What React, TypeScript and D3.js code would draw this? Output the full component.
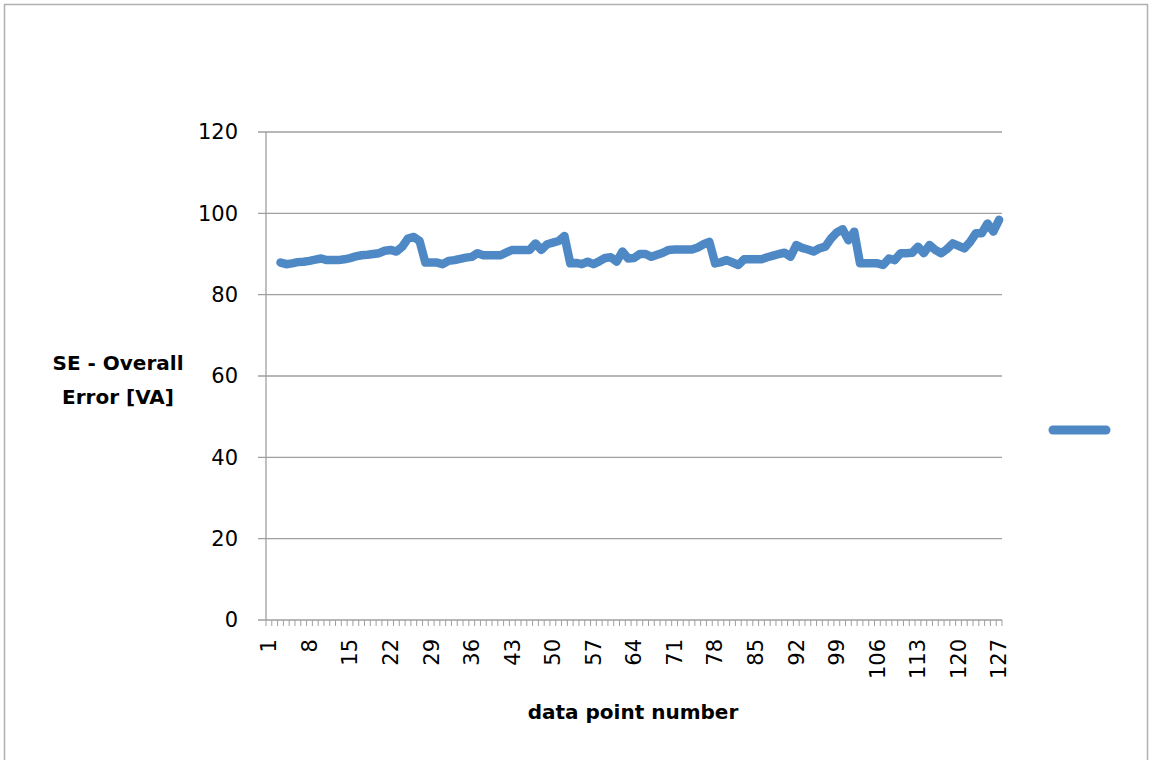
import React from "react";
import * as d3 from "d3";

const categories: number[] = d3.range(1, 128);
const xTickLabels: number[] = [1, 8, 15, 22, 29, 36, 43, 50, 57, 64, 71, 78, 85, 92, 99, 106, 113, 120, 127];
const yTicks: number[] = [0, 20, 40, 60, 80, 100, 120];

const seValues: (number | null)[] = [
  null, null, 87.9, 87.5, 87.7, 88.0, 88.1, 88.3, 88.6, 88.9,
  88.5, 88.5, 88.5, 88.7, 89.0, 89.4, 89.7, 89.8, 90.0, 90.2,
  90.8, 91.0, 90.6, 91.8, 93.8, 94.2, 93.2, 87.9, 87.9, 87.9,
  87.5, 88.3, 88.5, 88.8, 89.1, 89.3, 90.2, 89.7, 89.7, 89.7,
  89.7, 90.4, 91.0, 91.0, 91.0, 91.0, 92.6, 91.0, 92.4, 92.8,
  93.2, 94.4, 87.7, 87.8, 87.5, 88.1, 87.5, 88.2, 89.0, 89.2,
  88.1, 90.6, 88.9, 89.0, 90.0, 90.0, 89.3, 89.8, 90.3, 91.0,
  91.1, 91.1, 91.1, 91.1, 91.6, 92.4, 93.0, 87.7, 88.0, 88.5,
  87.9, 87.3, 88.7, 88.7, 88.7, 88.7, 89.2, 89.6, 90.0, 90.3,
  89.3, 92.2, 91.5, 91.1, 90.6, 91.4, 91.8, 93.8, 95.3, 96.1,
  93.4, 95.5, 87.7, 87.7, 87.7, 87.7, 87.3, 88.9, 88.5, 90.2,
  90.2, 90.3, 91.8, 90.2, 92.2, 91.0, 90.2, 91.2, 92.6, 92.0,
  91.4, 93.0, 95.1, 95.1, 97.5, 95.5, 98.4,
];

const W = 1151;
const H = 760;
const plot = { left: 266, right: 1002, top: 132, bottom: 620 };
const FONT = "'DejaVu Sans', 'Open Sans', sans-serif";
const LINE_COLOR = "#4f89c5";
const GRID = "#9f9f9f";

export default function App() {
  const x = d3
    .scaleBand<number>()
    .domain(categories)
    .range([plot.left, plot.right])
    .paddingInner(0)
    .paddingOuter(0);
  const y = d3.scaleLinear().domain([0, 120]).range([plot.bottom, plot.top]);
  const bw = x.bandwidth();
  const cx = (c: number) => (x(c) as number) + bw / 2;

  const points = categories.map((c, i) => ({ c, v: seValues[i] }));
  const line = d3
    .line<{ c: number; v: number | null }>()
    .defined((d) => d.v !== null)
    .x((d) => cx(d.c))
    .y((d) => y(d.v as number));

  const boundaries = categories.map((c) => x(c) as number).concat([plot.right]);

  return (
    <svg
      width={W}
      height={H}
      style={{ position: "absolute", left: 0, top: 0, background: "#fff" }}
      fontFamily={FONT}
    >
      <rect x={4.5} y={4.5} width={1143} height={H + 10} fill="#fff" stroke="#b0b0b0" strokeWidth={1.5} />

      {/* gridlines */}
      {yTicks.map((t) => (
        <line
          key={"g" + t}
          x1={plot.left - 8}
          x2={plot.right}
          y1={y(t)}
          y2={y(t)}
          stroke={GRID}
          strokeWidth={1.3}
        />
      ))}
      {/* y axis line */}
      <line x1={plot.left} x2={plot.left} y1={plot.top} y2={plot.bottom} stroke={GRID} strokeWidth={1.3} />
      {/* x ticks */}
      {boundaries.map((b, i) => (
        <line key={"xt" + i} x1={b} x2={b} y1={plot.bottom} y2={plot.bottom + 6} stroke={GRID} strokeWidth={1} />
      ))}

      {/* y tick labels */}
      {yTicks.map((t) => (
        <text key={"yl" + t} x={238} y={y(t)} dy="0.35em" textAnchor="end" fontSize={21} fill="#000">
          {t}
        </text>
      ))}

      {/* x tick labels */}
      {xTickLabels.map((c) => (
        <text
          key={"xl" + c}
          transform={`translate(${cx(c)},${plot.bottom + 19}) rotate(-90)`}
          textAnchor="end"
          dy="0.35em"
          fontSize={21}
          fill="#000"
        >
          {c}
        </text>
      ))}

      {/* series line */}
      <path
        d={line(points) || ""}
        fill="none"
        stroke={LINE_COLOR}
        strokeWidth={8.5}
        strokeLinejoin="round"
        strokeLinecap="round"
      />

      {/* axis titles */}
      <text x={118} y={370} textAnchor="middle" fontSize={20} fontWeight="bold" fill="#000">
        SE - Overall
      </text>
      <text x={118} y={404} textAnchor="middle" fontSize={20} fontWeight="bold" fill="#000">
        Error [VA]
      </text>
      <text x={633} y={719} textAnchor="middle" fontSize={20} fontWeight="bold" fill="#000">
        data point number
      </text>

      {/* legend */}
      <line x1={1053} x2={1106} y1={430} y2={430} stroke={LINE_COLOR} strokeWidth={9} strokeLinecap="round" />
    </svg>
  );
}
